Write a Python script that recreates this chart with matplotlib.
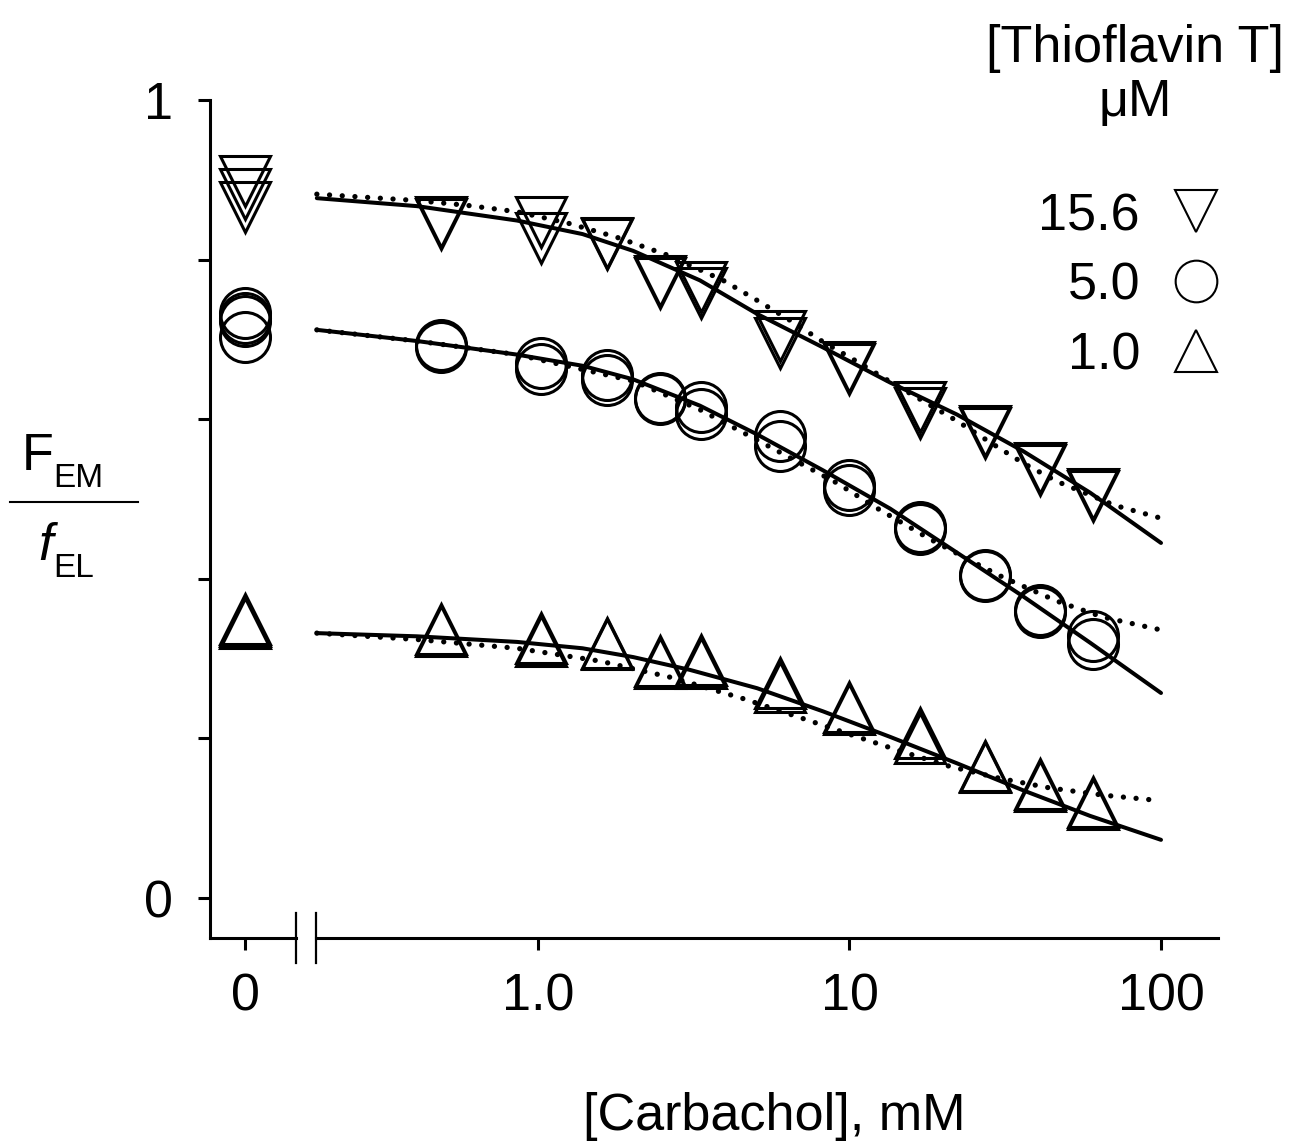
import matplotlib
matplotlib.use('Agg')
import matplotlib.pyplot as plt
from matplotlib.lines import Line2D
from matplotlib.ticker import NullLocator

plt.rcParams['font.family'] = ['Liberation Sans', 'DejaVu Sans']

# carbachol concentrations (mM) of the measured points
conc = [0.49, 1.02, 1.66, 2.47, 3.33, 6.0, 10.0, 16.9, 27.2, 41.0, 60.4]

# Thioflavin T 15.6 uM (down triangles), two replicates + zero carbachol
tht156_rep1 = [0.847, 0.847, 0.821, 0.773, 0.766, 0.704, 0.665, 0.615, 0.585, 0.539, 0.506]
tht156_rep2 = [0.845, 0.827, 0.819, 0.771, 0.758, 0.695, 0.663, 0.608, 0.583, 0.537, 0.504]
tht156_zero = [0.898, 0.882, 0.866]

# 5.0 uM (circles)
tht50_rep1 = [0.693, 0.670, 0.655, 0.627, 0.615, 0.579, 0.518, 0.465, 0.405, 0.361, 0.328]
tht50_rep2 = [0.690, 0.663, 0.649, 0.625, 0.607, 0.566, 0.511, 0.463, 0.403, 0.359, 0.318]
tht50_zero = [0.733, 0.727, 0.723, 0.703]

# 1.0 uM (up triangles)
tht10_rep1 = [0.337, 0.326, 0.320, 0.297, 0.298, 0.269, 0.239, 0.207, 0.166, 0.143, 0.120]
tht10_rep2 = [0.335, 0.322, 0.318, 0.295, 0.294, 0.264, 0.237, 0.200, 0.164, 0.141, 0.118]
tht10_zero = [0.350, 0.347, 0.345]

# fitted curves (solid and dotted)
fit156_solid_x = [0.195, 0.409, 0.856, 1.39, 2.02, 3.31, 5.05, 8.22, 13.5, 22.1, 36.1, 59.2, 100]
fit156_solid_y = [0.877, 0.867, 0.849, 0.832, 0.811, 0.774, 0.732, 0.690, 0.646, 0.606, 0.560, 0.508, 0.445]
fit156_dot_x = [0.195, 0.409, 0.592, 0.856, 1.24, 1.79, 2.59, 3.93, 5.05, 6.44, 8.22, 10.6,
                13.5, 17.2, 22.1, 28.3, 36.1, 46.4, 71.2, 100]
fit156_dot_y = [0.882, 0.874, 0.868, 0.860, 0.846, 0.828, 0.806, 0.774, 0.749, 0.724, 0.697, 0.672,
                0.647, 0.623, 0.598, 0.571, 0.545, 0.522, 0.492, 0.476]

fit50_solid_x = [0.195, 0.409, 0.856, 1.39, 2.02, 3.31, 5.05, 8.22, 13.5, 22.1, 36.1, 59.2, 100]
fit50_solid_y = [0.712, 0.698, 0.681, 0.667, 0.650, 0.617, 0.581, 0.536, 0.488, 0.433, 0.378, 0.320, 0.257]
fit50_dot_x = [0.195, 0.409, 0.856, 2.02, 3.31, 5.05, 9.12, 12.2, 17.9, 24.4, 31.1, 46.4, 65.2, 100]
fit50_dot_y = [0.712, 0.698, 0.681, 0.648, 0.612, 0.574, 0.520, 0.489, 0.451, 0.423, 0.402, 0.372, 0.352, 0.336]

fit10_solid_x = [0.195, 0.409, 0.856, 1.39, 2.02, 3.07, 5.05, 8.22, 13.5, 22.1, 36.1, 59.2, 100]
fit10_solid_y = [0.332, 0.328, 0.321, 0.313, 0.302, 0.286, 0.263, 0.234, 0.202, 0.169, 0.135, 0.103, 0.073]
fit10_dot_x = [0.195, 0.409, 0.856, 1.58, 2.71, 4.55, 7.47, 10.6, 14.9, 21.0, 30.4, 44.0, 65.2, 100]
fit10_dot_y = [0.332, 0.324, 0.313, 0.297, 0.276, 0.250, 0.222, 0.202, 0.183, 0.165, 0.150, 0.138, 0.129, 0.122]

legend_labels = ['15.6', '5.0', '1.0']
legend_markers = ['v', 'o', '^']

W, H = 1292, 1145
fig = plt.figure(figsize=(W / 100, H / 100), dpi=100)


def fx(px):
    return px / W


def fy(py):
    return 1 - py / H


# left stub axis for zero carbachol, right log axis
ax0 = fig.add_axes([fx(210), fy(938), fx(296) - fx(210), fy(100) - fy(938)])
ax1 = fig.add_axes([fx(316), fy(938), fx(1218) - fx(316), fy(100) - fy(938)])

FS = 37.5
LW = 2.2
MS = 36
mk = dict(linestyle='none', mfc='none', mec='black', mew=LW, ms=MS, clip_on=False)

# zero points
ax0.plot([0] * len(tht156_zero), tht156_zero, marker='v', **mk)
ax0.plot([0] * len(tht50_zero), tht50_zero, marker='o', **mk)
ax0.plot([0] * len(tht10_zero), tht10_zero, marker='^', **mk)

# data points
for rep, m in [(tht156_rep1, 'v'), (tht156_rep2, 'v'), (tht50_rep1, 'o'), (tht50_rep2, 'o'),
               (tht10_rep1, '^'), (tht10_rep2, '^')]:
    ax1.plot(conc, rep, marker=m, **mk)

# fits
dotted = (0, (0.01, 2.4))
for xs, ys in [(fit156_solid_x, fit156_solid_y), (fit50_solid_x, fit50_solid_y),
               (fit10_solid_x, fit10_solid_y)]:
    ax1.plot(xs, ys, color='black', lw=2.9, solid_capstyle='round',
             solid_joinstyle='round', clip_on=False)
for xs, ys in [(fit156_dot_x, fit156_dot_y), (fit50_dot_x, fit50_dot_y),
               (fit10_dot_x, fit10_dot_y)]:
    ax1.plot(xs, ys, color='black', lw=3.8, linestyle=dotted, dash_capstyle='round', clip_on=False)

# axes styling
ax0.set_xlim(-0.7, 1.02)
ax0.set_ylim(-0.05, 1.0)
ax1.set_xscale('log')
ax1.set_xlim(0.1938, 152.4)
ax1.set_ylim(-0.05, 1.0)

for s in ['top', 'right']:
    ax0.spines[s].set_visible(False)
for s in ['top', 'right', 'left']:
    ax1.spines[s].set_visible(False)
for a in (ax0, ax1):
    for s in a.spines.values():
        s.set_linewidth(LW)
    a.patch.set_visible(False)

ax0.set_yticks([0, 0.2, 0.4, 0.6, 0.8, 1.0])
ax0.set_yticklabels(['0', '', '', '', '', '1'])
ax0.set_xticks([0])
ax0.set_xticklabels(['0'])
ax0.tick_params(axis='both', direction='out', length=8.6, width=LW, labelsize=FS)
ax0.tick_params(axis='x', pad=16)
ax0.tick_params(axis='y', pad=18)

ax1.set_xticks([1, 10, 100])
ax1.set_xticklabels(['1.0', '10', '100'])
ax1.xaxis.set_minor_locator(NullLocator())
ax1.set_yticks([])
ax1.tick_params(axis='x', direction='out', length=8.6, width=LW, labelsize=FS, pad=16)

# axis break marks
ax0.plot([1, 1], [-0.03, 0.03], transform=ax0.transAxes, color='black', lw=1.6, clip_on=False)
ax1.plot([0, 0], [-0.03, 0.03], transform=ax1.transAxes, color='black', lw=1.6, clip_on=False)

# x label
fig.text(fx(774), fy(1130), '[Carbachol], mM', ha='center', va='baseline', fontsize=FS)

# y label as a fraction
fig.text(fx(22), fy(470), 'F', ha='left', va='baseline', fontsize=FS)
fig.text(fx(53), fy(487), 'EM', ha='left', va='baseline', fontsize=24)
fig.add_artist(Line2D([fx(10), fx(138)], [fy(502), fy(502)], color='black', lw=1.5))
fig.text(fx(38), fy(560), 'f', ha='left', va='baseline', fontsize=FS, style='italic')
fig.text(fx(53), fy(577), 'EL', ha='left', va='baseline', fontsize=24)

# legend block
fig.text(fx(1135), fy(62), '[Thioflavin T]', ha='center', va='baseline', fontsize=FS)
fig.text(fx(1135), fy(116), 'μM', ha='center', va='baseline', fontsize=FS)
for i, (lab, m) in enumerate(zip(legend_labels, legend_markers)):
    yc = 211 + i * 70
    fig.text(fx(1140), fy(yc), lab, ha='right', va='center_baseline', fontsize=FS)
    fig.add_artist(Line2D([fx(1196)], [fy(yc)], marker=m, ms=30, mfc='none', mec='black',
                          mew=1.5, linestyle='none'))

plt.savefig('out.png', dpi=100)
